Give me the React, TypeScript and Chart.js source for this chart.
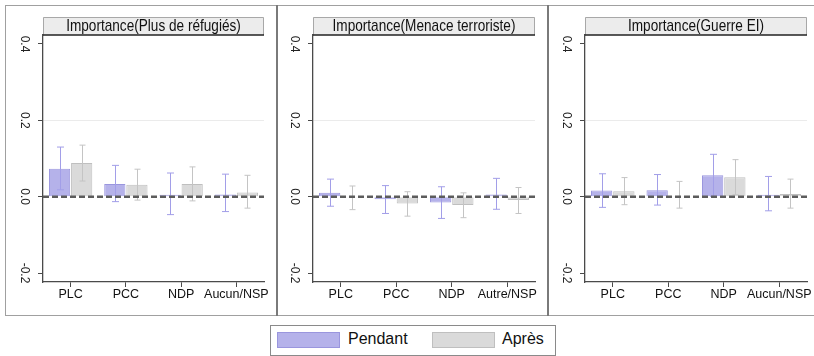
import React, { useEffect, useRef } from 'react';
import { Chart, registerables } from 'chart.js';

Chart.register(...registerables);

// ---------- data ----------
const refugeesCategories = ['PLC', 'PCC', 'NDP', 'Aucun/NSP'];
const terrorCategories = ['PLC', 'PCC', 'NDP', 'Autre/NSP'];
const warCategories = ['PLC', 'PCC', 'NDP', 'Aucun/NSP'];
const panelTitles = ['Importance(Plus de réfugiés)', 'Importance(Menace terroriste)', 'Importance(Guerre EI)'];
const seriesLabels = ['Pendant', 'Après'];
const yTicks = [-0.2, 0, 0.2, 0.4];

const refugeesPendant = [0.073, 0.033, 0.005, 0.006];
const refugeesPendantLow = [0.018, -0.013, -0.047, -0.039];
const refugeesPendantHigh = [0.13, 0.082, 0.062, 0.059];
const refugeesApres = [0.088, 0.031, 0.033, 0.011];
const refugeesApresLow = [0.041, -0.009, -0.011, -0.03];
const refugeesApresHigh = [0.135, 0.072, 0.078, 0.056];

const terrorPendant = [0.01, -0.007, -0.015, 0.006];
const terrorPendantLow = [-0.025, -0.044, -0.057, -0.033];
const terrorPendantHigh = [0.046, 0.029, 0.026, 0.048];
const terrorApres = [-0.002, -0.018, -0.022, -0.009];
const terrorApresLow = [-0.034, -0.051, -0.055, -0.044];
const terrorApresHigh = [0.028, 0.013, 0.01, 0.024];

const warPendant = [0.016, 0.017, 0.056, 0.005];
const warPendantLow = [-0.028, -0.022, 0.001, -0.037];
const warPendantHigh = [0.06, 0.058, 0.111, 0.053];
const warApres = [0.014, 0.002, 0.051, 0.007];
const warApresLow = [-0.021, -0.03, 0.005, -0.03];
const warApresHigh = [0.05, 0.04, 0.097, 0.046];

// ---------- styles ----------
const FONT = "'Liberation Sans', Arial, sans-serif";
const PENDANT_FILL = '#b5b2ea';
const PENDANT_EDGE = '#9a96de';
const PENDANT_ERR = '#a29ee8';
const APRES_FILL = '#dadada';
const APRES_EDGE = '#bfbfbf';
const APRES_ERR = '#c4c4c4';
const AXIS = '#4a4a4a';

const panels = [
  { title: panelTitles[0], cats: refugeesCategories, pend: refugeesPendant, pendLo: refugeesPendantLow, pendHi: refugeesPendantHigh, apr: refugeesApres, aprLo: refugeesApresLow, aprHi: refugeesApresHigh, left: 5, yw: 38, padR: 13 },
  { title: panelTitles[1], cats: terrorCategories, pend: terrorPendant, pendLo: terrorPendantLow, pendHi: terrorPendantHigh, apr: terrorApres, aprLo: terrorApresLow, aprHi: terrorApresHigh, left: 277, yw: 36, padR: 14 },
  { title: panelTitles[2], cats: warCategories, pend: warPendant, pendLo: warPendantLow, pendHi: warPendantHigh, apr: warApres, aprLo: warApresLow, aprHi: warApresHigh, left: 548, yw: 37, padR: 13 },
];

const headerPlugin = {
  id: 'header',
  afterDraw(chart: any, _args: any, opts: any) {
    const { ctx, chartArea } = chart;
    const h = 18;
    const top = chartArea.top - h;
    ctx.save();
    ctx.fillStyle = '#ececec';
    ctx.fillRect(chartArea.left, top, chartArea.right - chartArea.left, h);
    ctx.strokeStyle = '#a8a8a8';
    ctx.lineWidth = 1;
    ctx.beginPath();
    ctx.moveTo(chartArea.left + 0.5, chartArea.top);
    ctx.lineTo(chartArea.left + 0.5, top + 0.5);
    ctx.lineTo(chartArea.right - 0.5, top + 0.5);
    ctx.lineTo(chartArea.right - 0.5, chartArea.top);
    ctx.stroke();
    ctx.strokeStyle = '#222';
    ctx.lineWidth = 1.5;
    ctx.beginPath();
    ctx.moveTo(chartArea.left, chartArea.top);
    ctx.lineTo(chartArea.right, chartArea.top);
    ctx.stroke();
    // title, drawn slightly condensed like the original narrow face
    ctx.fillStyle = '#111';
    ctx.font = `17px ${FONT}`;
    ctx.textAlign = 'center';
    ctx.textBaseline = 'middle';
    ctx.translate((chartArea.left + chartArea.right) / 2, top + h / 2 + 0.5);
    ctx.scale(0.8, 1);
    ctx.fillText(opts.title, 0, 0);
    ctx.restore();
  },
};

const errorPlugin = {
  id: 'errbars',
  afterDatasetsDraw(chart: any) {
    const { ctx, chartArea } = chart;
    const yScale = chart.scales.y;
    ctx.save();
    chart.data.datasets.forEach((ds: any, di: number) => {
      const meta = chart.getDatasetMeta(di);
      ctx.strokeStyle = ds.errColor;
      ctx.lineWidth = 1;
      meta.data.forEach((bar: any, i: number) => {
        const x = Math.round(bar.x) + 0.5;
        const yl = yScale.getPixelForValue(ds.errLow[i]);
        const yh = yScale.getPixelForValue(ds.errHigh[i]);
        const c = ds.capWidth / 2;
        ctx.beginPath();
        ctx.moveTo(x, yl);
        ctx.lineTo(x, yh);
        ctx.moveTo(x - c, yl);
        ctx.lineTo(x + c, yl);
        ctx.moveTo(x - c, yh);
        ctx.lineTo(x + c, yh);
        ctx.stroke();
      });
    });
    // dashed reference line at zero
    const y0 = yScale.getPixelForValue(0);
    ctx.strokeStyle = '#5c5c5c';
    ctx.lineWidth = 2.5;
    ctx.setLineDash([6, 3]);
    ctx.beginPath();
    ctx.moveTo(chartArea.left, y0);
    ctx.lineTo(chartArea.right, y0);
    ctx.stroke();
    ctx.restore();
  },
};

function makeConfig(p: any): any {
  return {
    type: 'bar',
    data: {
      labels: p.cats,
      datasets: [
        {
          label: seriesLabels[0], data: p.pend, errLow: p.pendLo, errHigh: p.pendHi,
          backgroundColor: PENDANT_FILL, borderColor: PENDANT_EDGE, borderWidth: 1,
          errColor: PENDANT_ERR, capWidth: 7, categoryPercentage: 0.8, barPercentage: 0.96,
        },
        {
          label: seriesLabels[1], data: p.apr, errLow: p.aprLo, errHigh: p.aprHi,
          backgroundColor: APRES_FILL, borderColor: APRES_EDGE, borderWidth: 1,
          errColor: APRES_ERR, capWidth: 6, categoryPercentage: 0.8, barPercentage: 0.96,
        },
      ],
    },
    options: {
      animation: false,
      responsive: false,
      maintainAspectRatio: false,
      devicePixelRatio: 1,
      layout: { padding: { top: 35, right: p.padR, left: 0, bottom: 0 } },
      plugins: {
        legend: { display: false },
        tooltip: { enabled: false },
        header: { title: p.title },
      },
      scales: {
        x: {
          grid: { display: true, drawOnChartArea: false, offset: false, tickLength: 5, tickColor: AXIS, tickWidth: 1 },
          border: { color: AXIS, width: 1.3 },
          ticks: { color: '#111', font: { family: FONT, size: 12.5 }, padding: 0, maxRotation: 0, minRotation: 0, autoSkip: false },
          afterFit: (s: any) => { s.height = 38; },
        },
        y: {
          min: -0.2235,
          max: 0.4235,
          afterBuildTicks: (s: any) => { s.ticks = yTicks.map((v) => ({ value: v })); },
          grid: {
            drawOnChartArea: true,
            color: (c: any) => (c.tick && Math.abs(c.tick.value - 0.2) < 1e-9 ? '#ebebeb' : 'rgba(0,0,0,0)'),
            tickColor: AXIS,
            tickLength: 5,
            lineWidth: 1,
          },
          border: { color: AXIS, width: 1.3 },
          ticks: {
            color: '#222', font: { family: FONT, size: 12 }, padding: 3,
            minRotation: -90, maxRotation: -90, crossAlign: 'center',
            callback: (v: any) => Number(v).toFixed(1),
          },
          afterFit: (s: any) => { s.width = p.yw; },
        },
      },
    },
    plugins: [headerPlugin, errorPlugin],
  };
}

function Panel({ p }: { p: any }) {
  const ref = useRef<HTMLCanvasElement | null>(null);
  useEffect(() => {
    if (!ref.current) return;
    const chart = new Chart(ref.current, makeConfig(p));
    return () => chart.destroy();
  }, [p]);
  return (
    <canvas
      ref={ref}
      width={272}
      height={320}
      style={{ position: 'absolute', left: p.left, top: 0, width: 272, height: 320 }}
    />
  );
}

export default function App() {
  const swatch = (fill: string, edge: string, left: number) => (
    <div style={{ position: 'absolute', left, top: 332, width: 61, height: 14, background: fill, border: `1px solid ${edge}` }} />
  );
  const label = (text: string, left: number) => (
    <div style={{ position: 'absolute', left, top: 330, height: 20, lineHeight: '20px', font: `16px ${FONT}`, color: '#111' }}>{text}</div>
  );
  return (
    <div style={{ position: 'fixed', left: 0, top: 0, width: 814, height: 356, background: '#fff', overflow: 'hidden' }}>
      {/* panel frames */}
      <div style={{ position: 'absolute', left: 5, top: 5, width: 820, height: 309, border: '1.5px solid #a0a0a0' }} />
      <div style={{ position: 'absolute', left: 275.5, top: 5, width: 2, height: 311, background: '#7a7a7a' }} />
      <div style={{ position: 'absolute', left: 546.5, top: 5, width: 2, height: 311, background: '#7a7a7a' }} />
      {panels.map((p, i) => <Panel key={i} p={p} />)}
      {/* legend */}
      <div style={{ position: 'absolute', left: 270, top: 325, width: 284, height: 29, border: '1px solid #8a8a8a' }} />
      {swatch(PENDANT_FILL, PENDANT_EDGE, 277)}
      {label(seriesLabels[0], 348)}
      {swatch(APRES_FILL, APRES_EDGE, 432)}
      {label(seriesLabels[1], 502)}
    </div>
  );
}
